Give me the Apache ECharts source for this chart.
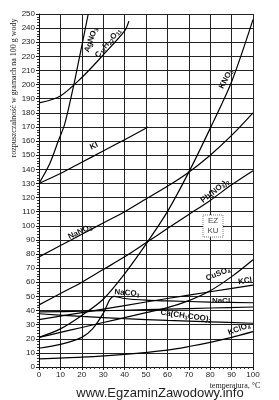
<!DOCTYPE html>
<html><head><meta charset="utf-8">
<script src="https://cdn.jsdelivr.net/npm/echarts@6/dist/echarts.min.js"></script>
<style>html,body{margin:0;padding:0;background:#fff}#c{width:279px;height:400px}</style>
</head><body><div id="c"></div>
<script>
// temperature [°C], solubility [g / 100 g water]
const agno3   = [[0,130],[5,144],[9,160],[12,172],[16,198],[19,220],[23,250]];
const sucrose = [[0,187],[10,192],[20,205],[30,221],[40,238],[42,245]];
const ki      = [[0,130],[10,137],[20,145],[30,153],[40,161],[51,170]];
const kno3    = [[0,21],[10,27],[20,36.5],[30,48],[40,66],[50,87],[60,110],[70,138],[80,169],[90,202],[100,246]];
const nano3   = [[0,78],[10,86],[20,94],[30,102],[40,110],[50,119],[60,128],[70,138],[80,150],[90,164],[100,180]];
const pbno32  = [[0,44],[10,52],[20,60],[30,69],[40,78],[50,88],[60,98],[70,108],[80,118],[90,129],[100,139]];
const cuso4   = [[0,21],[10,24.5],[20,28],[30,31.5],[40,35],[50,38.5],[60,42],[70,47],[80,54],[90,64],[100,76]];
const kcl     = [[0,33.5],[20,38.5],[40,43.5],[60,48.5],[80,53.3],[100,58]];
const na2co3  = [[0,13.3],[10,16],[20,21],[25,27],[30,38],[33,47.5],[35,50],[40,48.5],[50,47.3],[60,46.8],[80,46],[100,45.5]];
const nacl    = [[0,39],[20,39.5],[40,40.2],[60,41],[80,41.8],[100,42.5]];
const caac2   = [[0,37.7],[20,35.8],[40,34.2],[60,33],[80,32],[100,31]];
const kclo4   = [[0,5.8],[20,7],[40,9],[60,12],[70,14.5],[80,17.5],[90,21],[100,25]];

const seriesData = [agno3, sucrose, ki, kno3, nano3, pbno32, cuso4, kcl, na2co3, nacl, caac2, kclo4];
const yTicks = {min:0, max:250, step:10};
const xTicks = {min:0, max:100, step:10};

// label text: "_x" marks a subscript token
const curveLabels = [
  {t:'AgNO_3', x:91, y:40, r:70},
  {t:'C_12H_22O_11', x:108, y:43, r:50},
  {t:'KNO_3', x:226, y:79, r:62},
  {t:'KI', x:94, y:146, r:25},
  {t:'NaNO_3', x:80, y:232, r:25},
  {t:'Pb(NO_3)_2', x:215, y:191, r:38},
  {t:'NaCO_3', x:127, y:293, r:-4},
  {t:'CuSO_4', x:218, y:274, r:22},
  {t:'KCl', x:245, y:281, r:8},
  {t:'NaCl', x:221, y:301, r:0},
  {t:'Ca(CH_3COO)_2', x:186, y:316, r:-8},
  {t:'KClO_4', x:239, y:329, r:20}
];
function toRich(s){
  return s.replace(/_(\d+)/g, '{s|$1}').split(/(\{s\|\d+\})/).map(p => p.startsWith('{s|') ? p : (p ? '{m|'+p+'}' : '')).join('');
}

const chart = echarts.init(document.getElementById('c'), null, {renderer:'canvas'});
const fam = '"Liberation Sans", Arial, sans-serif';
const graphics = curveLabels.map(l => ({
  type:'text', x:l.x, y:l.y, rotation:l.r*Math.PI/180, z:100,
  style:{text:toRich(l.t), fill:'#111', align:'center', verticalAlign:'middle',
    rich:{m:{fontSize:8, fontWeight:'bold', fontFamily:fam, lineHeight:10, verticalAlign:'middle', fill:'#111'},
          s:{fontSize:5.5, fontWeight:'bold', fontFamily:fam, lineHeight:10, verticalAlign:'bottom', padding:[3,0,0,0], fill:'#111'}}}
}));
const mid = {align:'center', verticalAlign:'middle'};
graphics.push({type:'text', x:14, y:88, rotation:Math.PI/2, z:100,
  style:Object.assign({text:'rozpuszczalność w gramach na 100 g wody', font:'8px "Liberation Serif", "DejaVu Serif", serif', fill:'#222'}, mid)});
graphics.push({type:'text', x:235, y:386, z:100,
  style:Object.assign({text:'temperatura, °C', font:'8px "Liberation Serif", "DejaVu Serif", serif', fill:'#222'}, mid)});
graphics.push({type:'text', x:160, y:393, z:100,
  style:Object.assign({text:'www.EgzaminZawodowy.info', font:'13px "Liberation Sans", Arial, sans-serif', fill:'#222'}, mid)});
graphics.push({type:'rect', shape:{x:203, y:215, width:20, height:22}, z:90,
  style:{fill:'#fff', stroke:'#555', lineWidth:0.8, lineDash:[1,1]}});
graphics.push({type:'text', x:213, y:221, z:100,
  style:Object.assign({text:'EZ', font:'8px "Liberation Sans", Arial, sans-serif', fill:'#444'}, mid)});
graphics.push({type:'text', x:213, y:231, z:100,
  style:Object.assign({text:'KU', font:'8px "Liberation Sans", Arial, sans-serif', fill:'#444'}, mid)});

chart.setOption({
  animation:false,
  backgroundColor:'#fff',
  grid:{left:39, right:26, top:14, bottom:33, containLabel:false},
  xAxis:{type:'value', min:xTicks.min, max:xTicks.max, interval:xTicks.step,
    axisLine:{lineStyle:{color:'#111', width:1}},
    axisTick:{show:true, length:3, lineStyle:{color:'#111'}},
    minorTick:{show:true, splitNumber:5, length:2, lineStyle:{color:'#333'}},
    axisLabel:{fontSize:8, color:'#222', margin:4, fontFamily:fam},
    splitLine:{show:true, lineStyle:{color:'#222', width:1}}},
  yAxis:{type:'value', min:yTicks.min, max:yTicks.max, interval:yTicks.step,
    axisLine:{show:true, lineStyle:{color:'#111', width:1}},
    axisTick:{show:true, length:3, lineStyle:{color:'#111'}},
    minorTick:{show:true, splitNumber:5, length:2, lineStyle:{color:'#333'}},
    axisLabel:{fontSize:8, color:'#222', margin:4, fontFamily:fam},
    splitLine:{show:true, lineStyle:{color:'#222', width:1}}},
  series: seriesData.map(d => ({type:'line', data:d, smooth:0.3, showSymbol:false, symbol:'none',
    lineStyle:{color:'#000', width:1.2}, z:5})),
  graphic: graphics
});
</script></body></html>
